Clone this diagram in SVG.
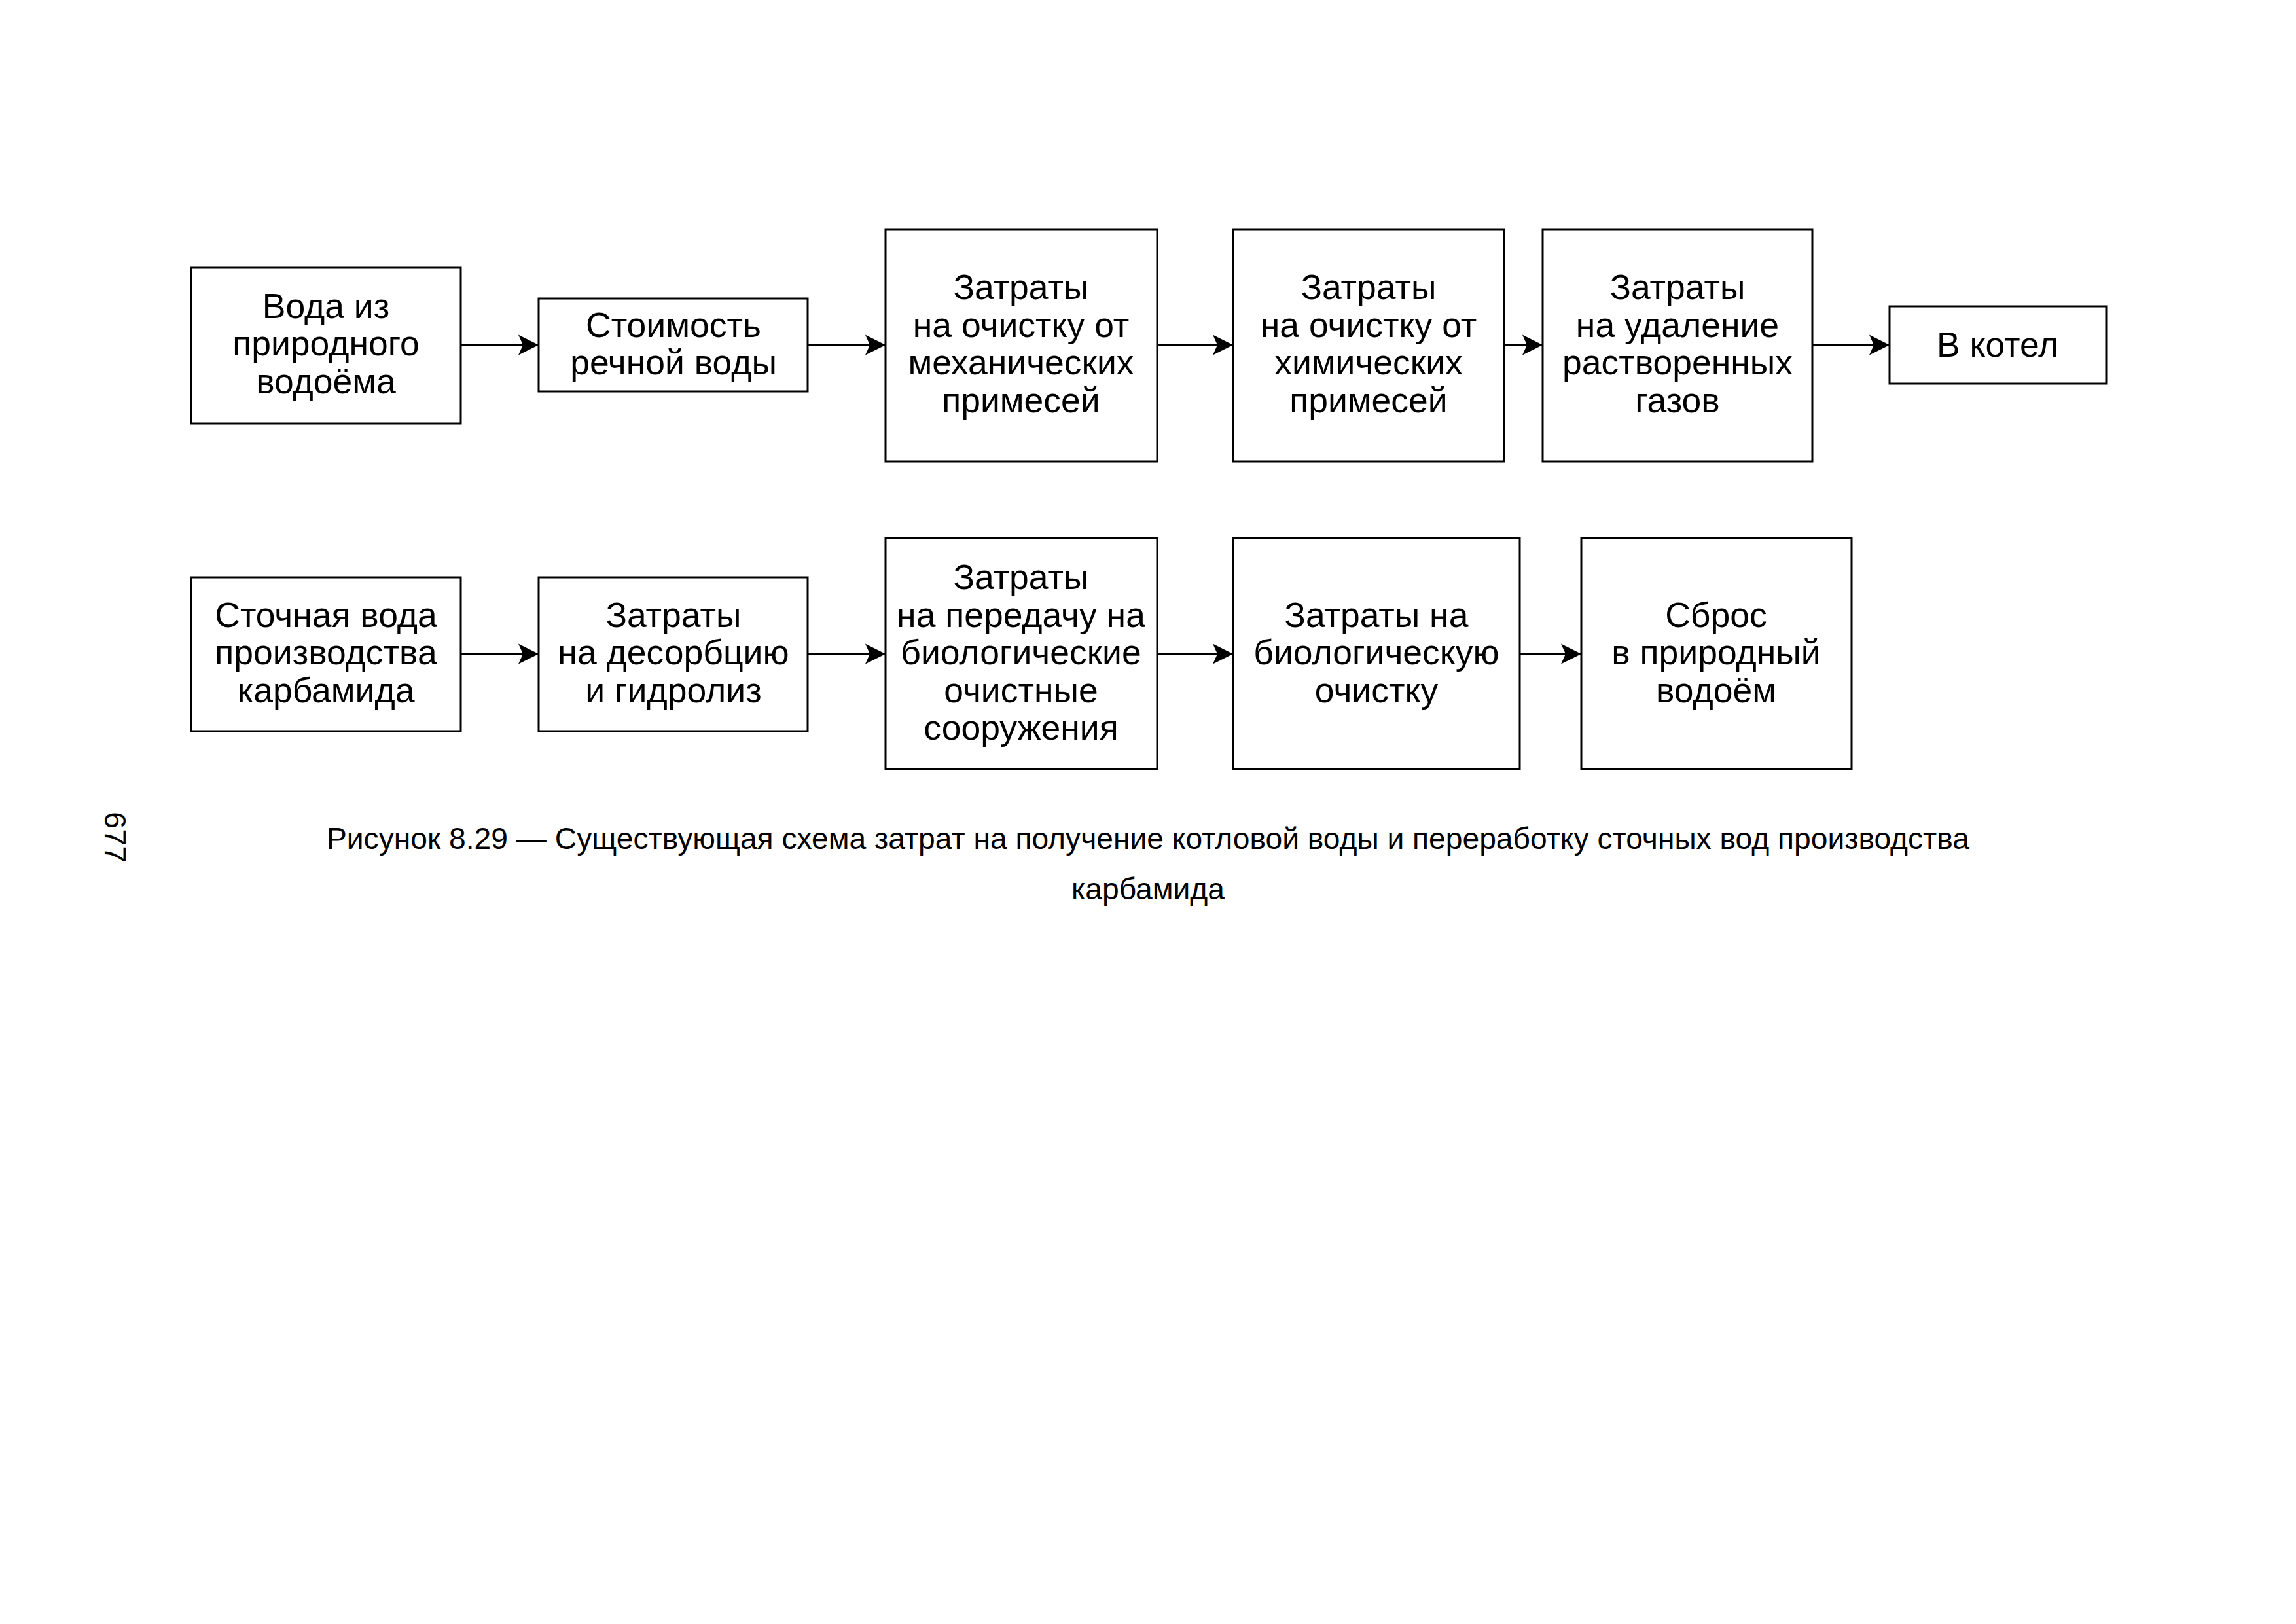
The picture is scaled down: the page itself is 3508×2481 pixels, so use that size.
<svg xmlns="http://www.w3.org/2000/svg" width="3508" height="2481" viewBox="0 0 3508 2481">
<style>
.box{fill:#fff;stroke:#000;stroke-width:3}
.t{font-family:"Liberation Sans",Arial,sans-serif;font-size:53.5px;text-anchor:middle;fill:#000}
.cap{font-family:"Liberation Sans",Arial,sans-serif;font-size:46.2px;text-anchor:middle;fill:#000}
.pg{font-family:"Liberation Sans",Arial,sans-serif;font-size:47px;fill:#000}
.c{fill:none;stroke:#000;stroke-width:3}
</style>
<defs>
<marker id="ah" markerUnits="userSpaceOnUse" markerWidth="34" markerHeight="34" viewBox="-33 -17 34 34" refX="0" refY="0" orient="auto">
<path d="M0,0 L-31,-15.5 L-24,0 L-31,15.5 Z" fill="#000"/>
</marker>
</defs>
<rect width="3508" height="2481" fill="#fff"/>

<g id="connectors">
<line class="c" x1="704" y1="527" x2="823" y2="527" marker-end="url(#ah)"/>
<line class="c" x1="1234" y1="527" x2="1353" y2="527" marker-end="url(#ah)"/>
<line class="c" x1="1768" y1="527" x2="1884" y2="527" marker-end="url(#ah)"/>
<line class="c" x1="2298" y1="527" x2="2357" y2="527" marker-end="url(#ah)"/>
<line class="c" x1="2769" y1="527" x2="2887" y2="527" marker-end="url(#ah)"/>
<line class="c" x1="704" y1="999" x2="823" y2="999" marker-end="url(#ah)"/>
<line class="c" x1="1234" y1="999" x2="1353" y2="999" marker-end="url(#ah)"/>
<line class="c" x1="1768" y1="999" x2="1884" y2="999" marker-end="url(#ah)"/>
<line class="c" x1="2322" y1="999" x2="2416" y2="999" marker-end="url(#ah)"/>
</g>

<g id="n1">
<rect class="box" x="292" y="409" width="412" height="238"/>
<text class="t"><tspan x="498" y="486">Вода из</tspan><tspan x="498" y="543">природного</tspan><tspan x="498" y="601">водоёма</tspan></text>
</g>
<g id="n2">
<rect class="box" x="823" y="456" width="411" height="142"/>
<text class="t"><tspan x="1029" y="515">Стоимость</tspan><tspan x="1029" y="572">речной воды</tspan></text>
</g>
<g id="n3">
<rect class="box" x="1353" y="351" width="415" height="354"/>
<text class="t"><tspan x="1560" y="457">Затраты</tspan><tspan x="1560" y="515">на очистку от</tspan><tspan x="1560" y="572">механических</tspan><tspan x="1560" y="630">примесей</tspan></text>
</g>
<g id="n4">
<rect class="box" x="1884" y="351" width="414" height="354"/>
<text class="t"><tspan x="2091" y="457">Затраты</tspan><tspan x="2091" y="515">на очистку от</tspan><tspan x="2091" y="572">химических</tspan><tspan x="2091" y="630">примесей</tspan></text>
</g>
<g id="n5">
<rect class="box" x="2357" y="351" width="412" height="354"/>
<text class="t"><tspan x="2563" y="457">Затраты</tspan><tspan x="2563" y="515">на удаление</tspan><tspan x="2563" y="572">растворенных</tspan><tspan x="2563" y="630">газов</tspan></text>
</g>
<g id="n6">
<rect class="box" x="2887" y="468" width="331" height="118"/>
<text class="t"><tspan x="3052" y="545">В котел</tspan></text>
</g>

<g id="m1">
<rect class="box" x="292" y="882" width="412" height="235"/>
<text class="t"><tspan x="498" y="958">Сточная вода</tspan><tspan x="498" y="1015">производства</tspan><tspan x="498" y="1073">карбамида</tspan></text>
</g>
<g id="m2">
<rect class="box" x="823" y="882" width="411" height="235"/>
<text class="t"><tspan x="1029" y="958">Затраты</tspan><tspan x="1029" y="1015">на десорбцию</tspan><tspan x="1029" y="1073">и гидролиз</tspan></text>
</g>
<g id="m3">
<rect class="box" x="1353" y="822" width="415" height="353"/>
<text class="t"><tspan x="1560" y="900">Затраты</tspan><tspan x="1560" y="958">на передачу на</tspan><tspan x="1560" y="1015">биологические</tspan><tspan x="1560" y="1073">очистные</tspan><tspan x="1560" y="1130">сооружения</tspan></text>
</g>
<g id="m4">
<rect class="box" x="1884" y="822" width="438" height="353"/>
<text class="t"><tspan x="2103" y="958">Затраты на</tspan><tspan x="2103" y="1015">биологическую</tspan><tspan x="2103" y="1073">очистку</tspan></text>
</g>
<g id="m5">
<rect class="box" x="2416" y="822" width="413" height="353"/>
<text class="t"><tspan x="2622" y="958">Сброс</tspan><tspan x="2622" y="1015">в природный</tspan><tspan x="2622" y="1073">водоём</tspan></text>
</g>

<text class="cap" x="1754" y="1297">Рисунок 8.29 — Существующая схема затрат на получение котловой воды и переработку сточных вод производства</text>
<text class="cap" x="1754" y="1374">карбамида</text>
<text class="pg" x="160" y="1240" transform="rotate(90 160 1240)">677</text>
</svg>
